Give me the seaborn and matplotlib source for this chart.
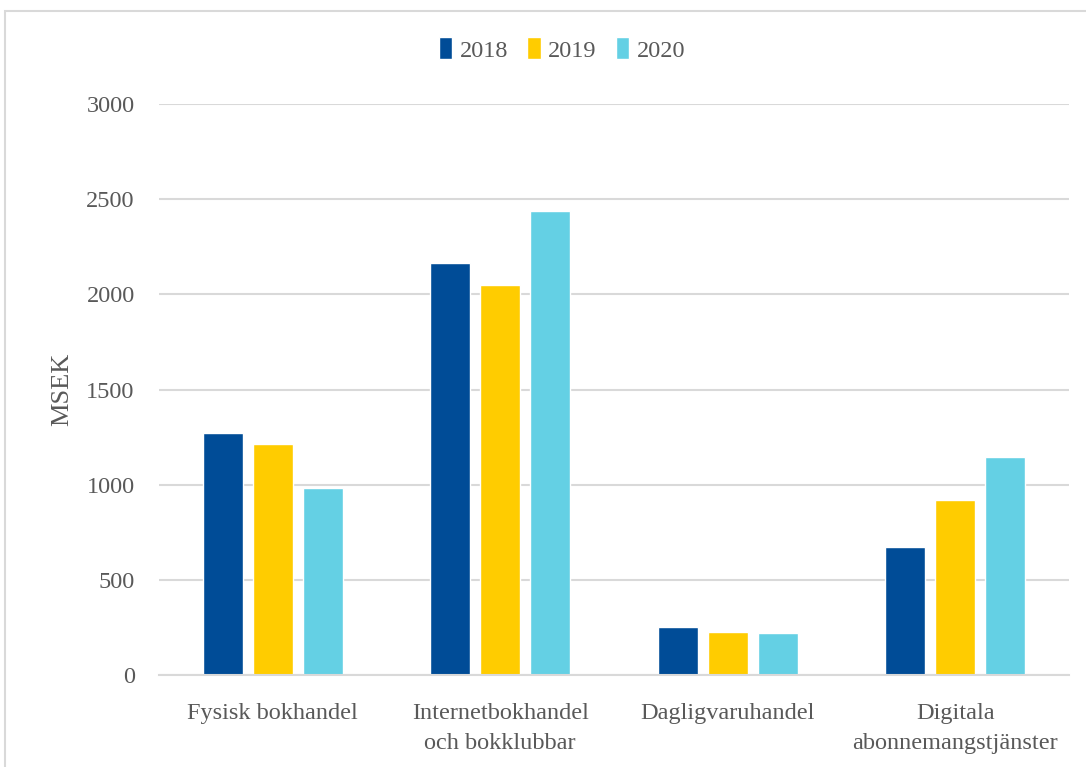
import matplotlib
matplotlib.use("Agg")
import matplotlib.pyplot as plt
import seaborn as sns
import pandas as pd
from matplotlib.patches import Rectangle

categories = ["Fysisk bokhandel", "Internetbokhandel\noch bokklubbar", "Dagligvaruhandel", "Digitala\nabonnemangstjänster"]
years = ["2018", "2019", "2020"]
values_2018 = [1272, 2166, 250, 675]
values_2019 = [1215, 2050, 226, 918]
values_2020 = [984, 2440, 219, 1147]
colors = ["#004C97", "#FFCC00", "#64D0E4"]
yticks = [0, 500, 1000, 1500, 2000, 2500, 3000]

rows = []
for y, vals in zip(years, [values_2018, values_2019, values_2020]):
    for c, v in zip(categories, vals):
        rows.append({"cat": c, "year": y, "value": v})
df = pd.DataFrame(rows)

sns.set_style("white")
plt.rcParams["font.family"] = ["Liberation Serif", "DejaVu Serif"]
text_color = "#595959"
fs = 17.5

fig = plt.figure(figsize=(10.86, 7.67), dpi=100)
ax = fig.add_axes([159/1086, 1 - 675/767, (1069-159)/1086, (675-104)/767])

sns.barplot(data=df, x="cat", y="value", hue="year", palette=colors,
            width=0.66, gap=0.2, ax=ax, saturation=1, legend=True)

ax.set_ylim(0, 3000)
ax.set_xlim(-0.5, 3.5)
ax.set_yticks(yticks)
ax.set_yticklabels([str(t) for t in yticks], fontsize=fs, color=text_color)
ax.tick_params(axis="x", labelsize=fs, labelcolor=text_color, length=0, pad=20)
for lbl in ax.get_xticklabels():
    lbl.set_linespacing(1.6)
ax.tick_params(axis="y", length=0, pad=17.5)
ax.set_xlabel("")
ax.set_ylabel("MSEK", fontsize=19, color=text_color, labelpad=9)
ax.yaxis.grid(True, color="#D9D9D9", linewidth=1.5)
ax.set_axisbelow(True)
for s in ["top", "right", "left"]:
    ax.spines[s].set_visible(False)
ax.spines["bottom"].set_color("#D9D9D9")
ax.spines["bottom"].set_linewidth(1.5)

ax.legend(loc="upper center", bbox_to_anchor=(0.443, 1.155), ncol=3, frameon=False,
          fontsize=fs, handlelength=0.55, handleheight=1.0, handletextpad=0.3,
          columnspacing=0.8, labelcolor=text_color)

fig.patches.append(Rectangle((5/1086, -0.1), 1.2, 1 - 11/767 + 0.1, transform=fig.transFigure,
                             fill=False, edgecolor="#D9D9D9", linewidth=1.5))

fig.savefig("out.png", dpi=100)
